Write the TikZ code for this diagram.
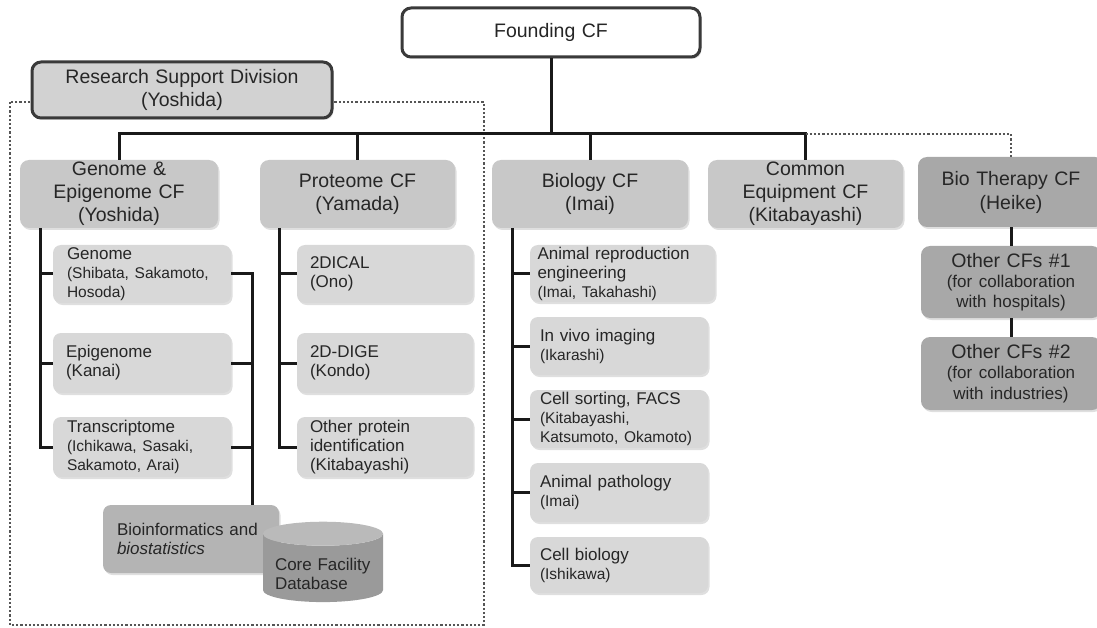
\documentclass[tikz,border=0pt]{standalone}
\usepackage{fontspec}
\setmainfont{Liberation Sans}
\usetikzlibrary{shapes.geometric,shadows}

\definecolor{inkgray}{HTML}{262626}
\definecolor{edgegray}{HTML}{3A3A3A}
\definecolor{rsdgray}{HTML}{D2D2D2}
\definecolor{cfgray}{HTML}{C8C8C8}
\definecolor{subgray}{HTML}{D8D8D8}
\definecolor{extgray}{HTML}{A8A8A8}
\definecolor{infogray}{HTML}{B4B4B4}
\definecolor{dbbody}{HTML}{9A9A9A}
\definecolor{dbtop}{HTML}{BABABA}
\definecolor{dotgray}{HTML}{555555}

\newcommand{\pnames}[1]{{\fontsize{15.5}{19}\selectfont #1}}
\newcommand{\pnote}[1]{{\fontsize{17}{20}\selectfont #1}}

\begin{document}
\begin{tikzpicture}[x=1pt,y=-1pt]
    % --- Dimensions ---
    \def\BusY{134}     % Y of the main horizontal bus
    \def\GenX{40}      % spine of the genome column
    \def\MergeX{252}   % bus into bioinformatics
    \def\ProtX{279}    % spine of the proteome column
    \def\BioX{512}     % spine of the biology column

    % --- Styles ---
    \tikzset{
        base box/.style={
            rounded corners=9pt,
            align=center,
            text=inkgray,
            inner sep=0pt,
            font=\fontsize{19.5}{23}\selectfont,
            drop shadow={shadow xshift=1.5pt, shadow yshift=-2pt, opacity=0.25}
        },
        head box/.style={base box, draw=edgegray, line width=3pt},
        cf box/.style={base box, fill=cfgray},
        ext box/.style={base box, fill=extgray, font=\fontsize{19.5}{20.5}\selectfont},
        sub box/.style={
            base box,
            fill=subgray,
            rounded corners=8pt,
            align=left,
            font=\fontsize{17}{19}\selectfont
        },
        link/.style={line width=3pt, draw=black!90},
        dot link/.style={line width=2.8pt, draw=dotgray, dash pattern=on 2.2pt off 2pt}
    }

    \useasboundingbox (0,0) rectangle (1097,628);

    % =========================================================
    % 1. RESEARCH SUPPORT DIVISION FRAME
    % =========================================================
    \draw[dot link] (10,102) rectangle (484,625);

    % =========================================================
    % 2. TOP LEVEL
    % =========================================================
    \node[head box, fill=white, minimum width=298pt, minimum height=49pt, text width=280pt]
        (found) at (551,32.5) {Founding CF};
    \node[head box, fill=rsdgray, minimum width=300pt, minimum height=56pt, text width=280pt]
        (rsd) at (182,90) {Research Support Division\\(Yoshida)};

    % =========================================================
    % 3. CORE FACILITIES
    % =========================================================
    \node[cf box, minimum width=198pt, minimum height=68pt, text width=185pt]
        (genome) at (119,194) {Genome \&\\Epigenome CF\\(Yoshida)};
    \node[cf box, minimum width=195pt, minimum height=68pt, text width=185pt]
        (proteome) at (357.5,194) {Proteome CF\\(Yamada)};
    \node[cf box, minimum width=196pt, minimum height=68pt, text width=185pt]
        (biology) at (590,194) {Biology CF\\(Imai)};
    \node[cf box, minimum width=195pt, minimum height=68pt, text width=185pt]
        (common) at (805.5,194) {Common\\Equipment CF\\(Kitabayashi)};
    \node[ext box, font=\fontsize{19.5}{24}\selectfont, minimum width=186pt, minimum height=70pt, text width=175pt]
        (biother) at (1011,192) {Bio Therapy CF\\(Heike)};
    \node[ext box, minimum width=180pt, minimum height=72pt, text width=170pt]
        (oth1) at (1011,282) {Other CFs \#1\\\pnote{(for collaboration\\with hospitals)}};
    \node[ext box, minimum width=180pt, minimum height=73pt, text width=170pt]
        (oth2) at (1011,373.5) {Other CFs \#2\\\pnote{(for collaboration\\with industries)}};

    % Genome & Epigenome
    \node[sub box, minimum width=178pt, minimum height=58pt, text width=150pt]
        (gen) at (142,274) {Genome\\\pnames{(Shibata, Sakamoto,\\Hosoda)}};
    \node[sub box, minimum width=178pt, minimum height=60pt, text width=152pt]
        (epi) at (142,363) {Epigenome\\(Kanai)};
    \node[sub box, minimum width=178pt, minimum height=60pt, text width=150pt]
        (tra) at (142,447) {Transcriptome\\\pnames{(Ichikawa, Sasaki,\\Sakamoto, Arai)}};
    \node[sub box, fill=infogray, minimum width=176pt, minimum height=68pt, text width=148pt]
        (bioinf) at (191,539) {Bioinformatics and\\\textit{biostatistics}\\[12pt]};
    \node[cylinder, shape border rotate=90, aspect=0.25, draw=none,
          cylinder uses custom fill, cylinder body fill=dbbody, cylinder end fill=dbtop,
          minimum width=120pt, minimum height=72pt, inner sep=0pt,
          text width=96pt, align=left, text=inkgray, font=\fontsize{17}{19}\selectfont]
        (db) at (323,568) {\\[6pt]Core Facility\\Database};

    % Proteome
    \node[sub box, minimum width=176pt, minimum height=58pt, text width=150pt]
        (dical) at (385,274) {2DICAL\\(Ono)};
    \node[sub box, minimum width=176pt, minimum height=60pt, text width=150pt]
        (dige) at (385,363) {2D-DIGE\\(Kondo)};
    \node[sub box, minimum width=176pt, minimum height=60pt, text width=150pt]
        (opi) at (385,447) {Other protein\\identification\\(Kitabayashi)};

    % Biology
    \node[sub box, minimum width=185pt, minimum height=57pt, text width=170pt]
        (arep) at (622.5,273.5) {Animal reproduction\\engineering\\\pnames{(Imai, Takahashi)}};
    \node[sub box, minimum width=178pt, minimum height=58pt, text width=158pt]
        (ivi) at (619,346) {In vivo imaging\\\pnames{(Ikarashi)}};
    \node[sub box, minimum width=178pt, minimum height=58pt, text width=158pt]
        (cso) at (619,419) {Cell sorting, FACS\\\pnames{(Kitabayashi,\\Katsumoto, Okamoto)}};
    \node[sub box, minimum width=178pt, minimum height=59pt, text width=158pt]
        (apa) at (619,492.5) {Animal pathology\\\pnames{(Imai)}};
    \node[sub box, minimum width=178pt, minimum height=56pt, text width=158pt]
        (cbi) at (619,565) {Cell biology\\\pnames{(Ishikawa)}};

    % =========================================================
    % 4. CONNECTORS
    % =========================================================
    \draw[link] (found.south) -- (found.south |- 0,\BusY);
    \draw[link] (genome.north) -- (genome.north |- 0,\BusY) -| (common.north);
    \draw[link] (proteome.north) -- (proteome.north |- 0,\BusY);
    \draw[link] (biology.north) -- (biology.north |- 0,\BusY);
    \draw[dot link] (common.north |- 0,\BusY) -| (biother.north);

    % genome column
    \draw[link] (\GenX,228) |- (tra.west);
    \draw[link] (gen.west) -- (gen.west -| \GenX,0);
    \draw[link] (epi.west) -- (epi.west -| \GenX,0);
    \coordinate (infotop) at (bioinf.north -| \MergeX,0);
    \draw[link] (gen.east) -| (infotop);
    \draw[link] (epi.east) -- (epi.east -| infotop);
    \draw[link] (tra.east) -- (tra.east -| infotop);

    % proteome column
    \draw[link] (\ProtX,228) |- (opi.west);
    \draw[link] (dical.west) -- (dical.west -| \ProtX,0);
    \draw[link] (dige.west) -- (dige.west -| \ProtX,0);

    % biology column
    \draw[link] (\BioX,228) |- (cbi.west);
    \foreach \n in {arep,ivi,cso,apa}
        \draw[link] (\n.west) -- (\n.west -| \BioX,0);

    % bio therapy chain
    \draw[link] (biother.south) -- (oth1.north);
    \draw[link] (oth1.south) -- (oth2.north);

\end{tikzpicture}
\end{document}
